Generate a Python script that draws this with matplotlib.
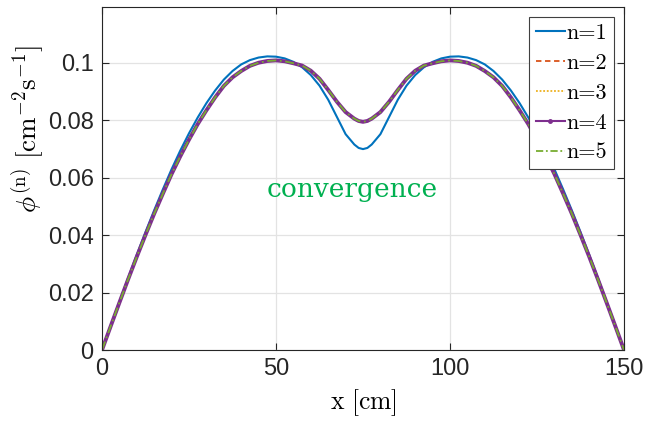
import numpy as np
from matplotlib import pyplot as plt
from matplotlib.lines import Line2D

# position along the slab [cm]
x_cm = [0, 2.5, 5, 7.5, 10, 12.5, 15, 17.5, 20, 22.5, 25, 27.5, 30, 32.5, 35, 37.5, 40, 42.5, 45, 47.5,
        50, 52.5, 55, 57.5, 60, 62.5, 65, 67.5, 70, 72.5, 73.75, 75, 76.25, 77.5, 80, 82.5, 85, 87.5, 90,
        92.5, 95, 97.5, 100, 102.5, 105, 107.5, 110, 112.5, 115, 117.5, 120, 122.5, 125, 127.5, 130, 132.5,
        135, 137.5, 140, 142.5, 145, 147.5, 150]

# flux, first iterate
phi_1 = [0, 0.0085, 0.0168, 0.0251, 0.0332, 0.0411, 0.0487, 0.0560, 0.0630, 0.0695, 0.0755, 0.0810,
         0.0860, 0.0904, 0.0942, 0.0972, 0.0995, 0.1010, 0.1019, 0.1023,
         0.1022, 0.1016, 0.1004, 0.0985, 0.0958, 0.0921, 0.0872, 0.0812, 0.0752, 0.0716, 0.0704,
         0.0700,
         0.0704, 0.0716, 0.0752, 0.0812, 0.0872, 0.0921, 0.0958, 0.0985, 0.1004, 0.1016, 0.1022,
         0.1023, 0.1019, 0.1010, 0.0995, 0.0972, 0.0942, 0.0904, 0.0860, 0.0810, 0.0755,
         0.0695, 0.0630, 0.0560, 0.0487, 0.0411, 0.0332, 0.0251, 0.0168, 0.0085, 0]

# flux, iterates 2..5 (they lie on top of each other)
phi_2 = [0, 0.0083, 0.0165, 0.0246, 0.0325, 0.0401, 0.0475, 0.0545, 0.0613, 0.0675, 0.0733, 0.0787,
         0.0835, 0.0880, 0.0920, 0.0950, 0.0972, 0.0990, 0.1001, 0.1007,
         0.1009, 0.1006, 0.0999, 0.0991, 0.0973, 0.0945, 0.0906, 0.0865, 0.0829, 0.0806, 0.0798,
         0.0795,
         0.0798, 0.0806, 0.0829, 0.0865, 0.0906, 0.0945, 0.0973, 0.0991, 0.0999, 0.1006, 0.1009,
         0.1007, 0.1001, 0.0990, 0.0972, 0.0950, 0.0920, 0.0880, 0.0835, 0.0787, 0.0733,
         0.0675, 0.0613, 0.0545, 0.0475, 0.0401, 0.0325, 0.0246, 0.0165, 0.0083, 0]
phi_3 = phi_2
phi_4 = phi_2
phi_5 = phi_2

labels = ['n=1', 'n=2', 'n=3', 'n=4', 'n=5']
x_ticks = [0, 50, 100, 150]
y_ticks = [0, 0.02, 0.04, 0.06, 0.08, 0.1]
y_ticklabels = ['0', '0.02', '0.04', '0.06', '0.08', '0.1']

plt.rcParams['mathtext.fontset'] = 'cm'
plt.rcParams['font.family'] = ['Liberation Sans', 'DejaVu Sans']

fig = plt.figure(figsize=(6.48, 4.28), dpi=100)
ax = fig.add_axes([0.1574, 0.1822, 0.8056, 0.8014])

ax.plot(x_cm, phi_1, color='#0072BD', lw=1.5, ls='-')
ax.plot(x_cm, phi_2, color='#D95319', lw=1.3, ls=(0, (4, 2.5)))
ax.plot(x_cm, phi_3, color='#EDB120', lw=1.3, ls=(0, (1, 1)))
ax.plot(x_cm, phi_4, color='#7E2F8E', lw=2.8, ls='-')
ax.plot(x_cm, phi_5, color='#77AC30', lw=1.3, ls=(0, (5, 2, 1, 2)))

ax.set_xlim(0, 150)
ax.set_ylim(0, 0.1195)
ax.set_xticks(x_ticks)
ax.set_yticks(y_ticks)
ax.set_yticklabels(y_ticklabels)
ax.tick_params(direction='in', top=True, right=True, labelsize=17, colors='#262626', length=5, pad=6)
for s in ax.spines.values():
    s.set_color('#262626')
    s.set_linewidth(0.8)
ax.grid(True, color='#E3E3E3', lw=0.9)
ax.set_axisbelow(True)

ax.set_xlabel(r'$\mathrm{x}\ [\mathrm{cm}]$', fontsize=18.5, labelpad=5)
ax.set_ylabel(r'$\phi^{(\mathrm{n})}\ [\mathrm{cm}^{-2}\mathrm{s}^{-1}]$', fontsize=19.5)
ax.yaxis.set_label_coords(-0.106, 0.645)

# legend handles: MATLAB look, n=4 has a dot marker in the middle
handles = [
    Line2D([], [], color='#0072BD', lw=1.5),
    Line2D([], [], color='#D95319', lw=1.3, ls=(0, (3, 2))),
    Line2D([], [], color='#EDB120', lw=1.3, ls=(0, (1, 1))),
    Line2D([], [], color='#7E2F8E', lw=1.5, marker='.', ms=5, markevery=[1]),
    Line2D([], [], color='#77AC30', lw=1.3, ls=(0, (4, 1.5, 1, 1.5))),
]
leg = ax.legend(handles, labels, loc='upper right', prop={'family': 'cmr10', 'size': 16},
                handlelength=1.3, handletextpad=0.1, labelspacing=0.46, borderpad=0.3,
                borderaxespad=0.45, fancybox=False, framealpha=1, edgecolor='#404040')
leg.get_frame().set_linewidth(0.8)

ax.text(72, 0.0558, 'convergence', color='#00B050', fontsize=19, family='DejaVu Serif',
        ha='center', va='center')

fig.savefig('out.png', dpi=100)
